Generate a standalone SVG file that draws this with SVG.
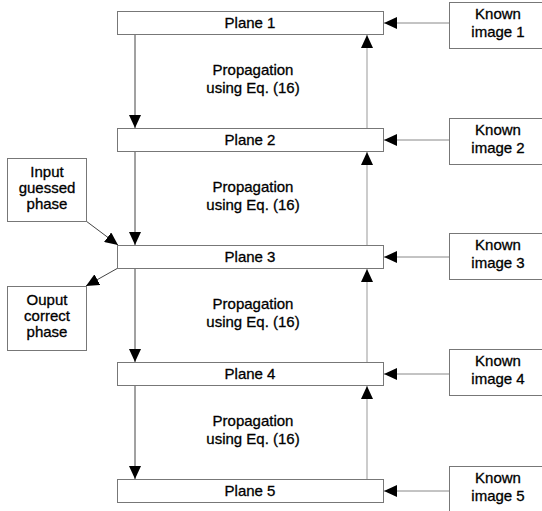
<svg xmlns="http://www.w3.org/2000/svg" width="542" height="511" viewBox="0 0 542 511">
<style>
.box{fill:#fff;stroke:#777;stroke-width:1}
.t{font-family:"Liberation Sans",Arial,sans-serif;font-size:15px;fill:#000;stroke:#000;stroke-width:0.3;text-anchor:middle}
.dn{stroke:#444;stroke-width:1;fill:none}
.up{stroke:#999;stroke-width:1;fill:none}
.in{stroke:#888;stroke-width:1;fill:none}
</style>
<defs>
<marker id="ah" markerUnits="userSpaceOnUse" markerWidth="13" markerHeight="12" refX="13" refY="6" orient="auto">
<path d="M0,0 L13,6 L0,12 z" fill="#000"/>
</marker>
</defs>
<rect width="542" height="511" fill="#fff"/>
<g id="connectors">
<line class="in" x1="449" y1="23" x2="384" y2="23" marker-end="url(#ah)"/>
<line class="in" x1="449" y1="140" x2="384" y2="140" marker-end="url(#ah)"/>
<line class="in" x1="449" y1="257" x2="384" y2="257" marker-end="url(#ah)"/>
<line class="in" x1="449" y1="374" x2="384" y2="374" marker-end="url(#ah)"/>
<line class="in" x1="449" y1="491" x2="384" y2="491" marker-end="url(#ah)"/>
<line class="dn" x1="135" y1="35" x2="135" y2="128" marker-end="url(#ah)"/>
<line class="dn" x1="135" y1="152" x2="135" y2="245" marker-end="url(#ah)"/>
<line class="dn" x1="135" y1="269" x2="135" y2="362" marker-end="url(#ah)"/>
<line class="dn" x1="135" y1="386" x2="135" y2="479" marker-end="url(#ah)"/>
<line class="up" x1="367" y1="128" x2="367" y2="35" marker-end="url(#ah)"/>
<line class="up" x1="367" y1="245" x2="367" y2="152" marker-end="url(#ah)"/>
<line class="up" x1="367" y1="362" x2="367" y2="269" marker-end="url(#ah)"/>
<line class="up" x1="367" y1="479" x2="367" y2="386" marker-end="url(#ah)"/>
<line class="dn" x1="86" y1="221" x2="118" y2="245" marker-end="url(#ah)"/>
<line class="dn" x1="118" y1="268" x2="86" y2="286" marker-end="url(#ah)"/>
</g>
<g id="plane1"><rect class="box" x="117.5" y="11.5" width="266" height="23"/><text class="t" x="250" y="28">Plane 1</text></g>
<g id="plane2"><rect class="box" x="117.5" y="128.5" width="266" height="23"/><text class="t" x="250" y="145">Plane 2</text></g>
<g id="plane3"><rect class="box" x="117.5" y="245.5" width="266" height="23"/><text class="t" x="250" y="262">Plane 3</text></g>
<g id="plane4"><rect class="box" x="117.5" y="362.5" width="266" height="23"/><text class="t" x="250" y="379">Plane 4</text></g>
<g id="plane5"><rect class="box" x="117.5" y="479.5" width="266" height="23"/><text class="t" x="250" y="496">Plane 5</text></g>
<g id="known1"><rect class="box" x="449.5" y="2.5" width="100" height="46"/><text class="t" x="498" y="19">Known</text><text class="t" x="498" y="37">image 1</text></g>
<g id="known2"><rect class="box" x="449.5" y="118.5" width="100" height="46"/><text class="t" x="498" y="135">Known</text><text class="t" x="498" y="153">image 2</text></g>
<g id="known3"><rect class="box" x="449.5" y="233.5" width="100" height="46"/><text class="t" x="498" y="250">Known</text><text class="t" x="498" y="268">image 3</text></g>
<g id="known4"><rect class="box" x="449.5" y="349.5" width="100" height="46"/><text class="t" x="498" y="366">Known</text><text class="t" x="498" y="384">image 4</text></g>
<g id="known5"><rect class="box" x="449.5" y="466.5" width="100" height="46"/><text class="t" x="498" y="483">Known</text><text class="t" x="498" y="501">image 5</text></g>
<g id="input"><rect class="box" x="7.5" y="158.5" width="79" height="63"/><text class="t" x="47" y="177">Input</text><text class="t" x="47" y="193">guessed</text><text class="t" x="47" y="209">phase</text></g>
<g id="output"><rect class="box" x="7.5" y="286.5" width="79" height="64"/><text class="t" x="47" y="305">Ouput</text><text class="t" x="47" y="321">correct</text><text class="t" x="47" y="337">phase</text></g>
<g id="labels">
<text class="t" x="253" y="75">Propagation</text><text class="t" x="253" y="93">using Eq. (16)</text>
<text class="t" x="253" y="192">Propagation</text><text class="t" x="253" y="210">using Eq. (16)</text>
<text class="t" x="253" y="309">Propagation</text><text class="t" x="253" y="327">using Eq. (16)</text>
<text class="t" x="253" y="426">Propagation</text><text class="t" x="253" y="444">using Eq. (16)</text>
</g>
</svg>
